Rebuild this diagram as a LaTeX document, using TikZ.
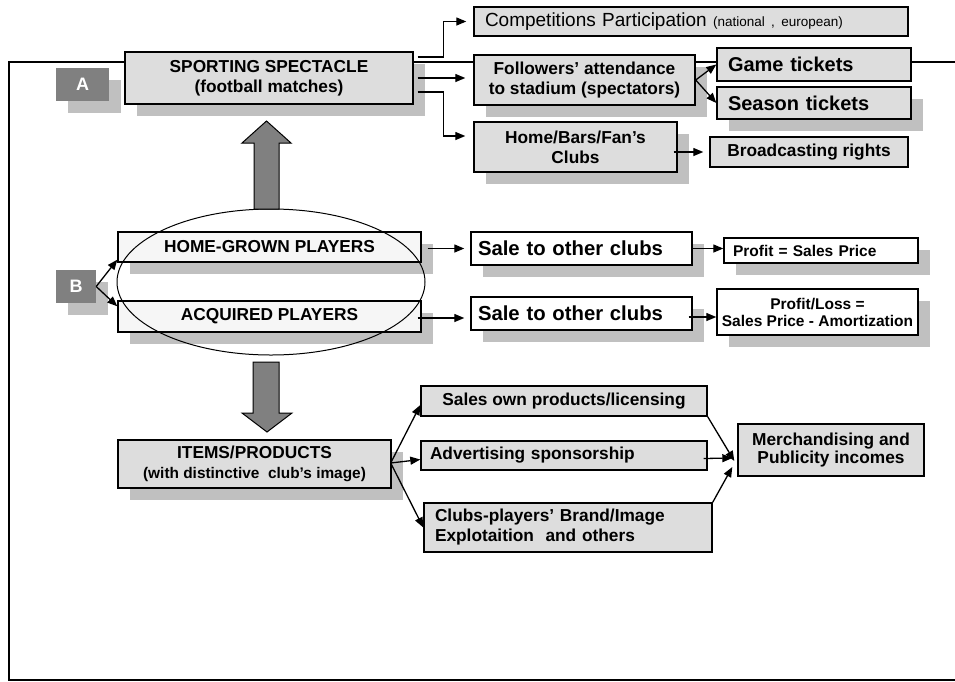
\documentclass[tikz,border=0pt]{standalone}
\usepackage{fontspec}
\setmainfont{Liberation Sans}
\usetikzlibrary{arrows.meta,shadows,calc}
\definecolor{boxgray}{HTML}{DDDDDD}
\definecolor{palegray}{HTML}{F6F6F6}
\definecolor{shadegray}{HTML}{C0C0C0}
\definecolor{darkgray}{HTML}{808080}
\tikzset{
  >={Triangle[length=10pt,width=8pt]},
  box/.style={draw, line width=1.4pt, fill=boxgray, inner sep=0pt, align=center,
    font=\bfseries\fontsize{17.3}{20}\selectfont},
  lbox/.style={box, align=left},
  pale/.style={fill=palegray},
  white/.style={fill=white},
  shade/.style={drop shadow={shadow xshift=12pt, shadow yshift=-12pt, fill=shadegray, opacity=1}},
  letter/.style={fill=darkgray, text=white, inner sep=0pt, font=\bfseries\fontsize{18}{20}\selectfont},
  conn/.style={->, line width=1.3pt},
  gap/.style={shorten >=6pt},
  frame/.style={line width=2pt},
  bigarrow/.style={draw, line width=1pt, fill=darkgray}
}

\begin{document}
\begin{tikzpicture}[x=1pt,y=-1pt]
  \useasboundingbox (0,0) rectangle (955,681);
  % Marco
  \draw[frame] (955,62) -- (9,62) -- (9,679.5) -- (955,679.5);
  % A: espectaculo deportivo
  \node[letter, shade, minimum width=53pt, minimum height=33pt] (labA) at (82.5,84.5) {A};
  \node[box, shade, minimum width=288pt, minimum height=52pt] (sport) at (269,78)
    {SPORTING SPECTACLE\\(football matches)};
  \node[lbox, text width=412pt, inner xsep=11pt, minimum height=29pt,
    font=\fontsize{19}{21}\selectfont] (compet) at (691,21.5)
    {Competitions Participation {\fontsize{13.5}{15}\selectfont(national , european)}};
  \node[box, shade, minimum width=221pt, minimum height=50pt] (follow) at (584.5,80)
    {Followers’ attendance\\to stadium (spectators)};
  \node[box, shade, minimum width=203pt, minimum height=50pt] (homebars) at (575.5,147)
    {Home/Bars/Fan’s\\Clubs};
  \node[lbox, text width=172pt, inner xsep=11pt, minimum height=33pt,
    font=\bfseries\fontsize{20}{22}\selectfont] (game) at (814,64.5) {Game tickets};
  \node[lbox, shade, text width=172pt, inner xsep=11pt, minimum height=32pt,
    font=\bfseries\fontsize{20}{22}\selectfont] (season) at (814,103) {Season tickets};
  \node[box, minimum width=198pt, minimum height=30pt] (broadcast) at (809,152)
    {Broadcasting rights};
  % B: jugadores
  \node[letter, shade, minimum width=40pt, minimum height=33pt] (labB) at (76,286.5) {B};
  \node[box, pale, shade, minimum width=303pt, minimum height=30pt] (homegrown) at (269.5,247)
    {HOME-GROWN PLAYERS};
  \node[box, pale, shade, minimum width=303pt, minimum height=31pt] (acquired) at (269.5,316.5)
    {ACQUIRED PLAYERS};
  \draw[line width=1pt] (271,282) ellipse [x radius=154pt, y radius=73pt];
  \node[lbox, white, shade, text width=207pt, inner xsep=7pt, minimum height=33pt,
    font=\bfseries\fontsize{20.3}{22}\selectfont] (sale1) at (581.5,248.5) {Sale to other clubs};
  \node[lbox, white, shade, text width=207pt, inner xsep=7pt, minimum height=33pt,
    font=\bfseries\fontsize{20.3}{22}\selectfont] (sale2) at (581.5,313.5) {Sale to other clubs};
  \node[lbox, white, shade, text width=176pt, inner xsep=9pt, minimum height=25pt,
    font=\bfseries\fontsize{15.5}{17}\selectfont] (prof1) at (821,250.5) {Profit = Sales Price};
  \node[box, white, shade, minimum width=201pt, minimum height=46pt,
    font=\bfseries\fontsize{15.5}{17}\selectfont] (prof2) at (817.5,312)
    {Profit/Loss =\\Sales Price - Amortization};
  % Productos
  \node[box, shade, minimum width=273pt, minimum height=48pt] (items) at (254.5,464)
    {ITEMS/PRODUCTS\\{\fontsize{15.4}{18}\selectfont(with distinctive~ club’s image)}};
  \node[box, minimum width=286pt, minimum height=30pt] (own) at (564,401)
    {Sales own products/licensing};
  \node[lbox, text width=268pt, inner xsep=9pt, minimum height=29pt] (adv) at (564,455.5)
    {Advertising sponsorship};
  \node[lbox, text width=266pt, inner xsep=11pt, minimum height=49pt] (brand) at (568,527.5)
    {Clubs-players’ Brand/Image\\Explotaition~ and others};
  \node[box, minimum width=186pt, minimum height=52pt,
    font=\bfseries\fontsize{17.3}{18}\selectfont] (merch) at (831,450)
    {Merchandising and\\Publicity incomes};
  % Flechas grandes
  \draw[bigarrow] (254,209) -- (254,143) -- (242,143) -- (266.5,121) -- (291,143)
    -- (279,143) -- (279,209) -- cycle;
  \draw[bigarrow] (253,362) -- (253,413) -- (242,413) -- (267,432) -- (292,413)
    -- (279,413) -- (279,362) -- cycle;
  % Conexiones
  \draw[conn, shorten >=7pt] ($(sport.east)+(4,-21)$) -- ++(26,0) |- (compet.west);
  \draw[conn, shorten >=8pt] ($(sport.east)+(4,0)$) -- (sport.east -| follow.west);
  \draw[conn, shorten >=8pt] ($(sport.east)+(4,14)$) -- ++(26,0) |- ($(homebars.west)+(0,-11)$);
  \draw[conn] (follow.east) -- (game.west);
  \draw[conn] (follow.east) -- (season.west);
  \draw[conn, gap] ($(homebars.east |- broadcast.west)+(-4,0)$) -- (broadcast.west);
  \draw[conn] (labB.east) -- ($(homegrown.south west)+(0,-3)$);
  \draw[conn] (labB.east) -- ($(acquired.north west)+(0,6)$);
  \draw[conn, gap] ($(sale1.west -| homegrown.east)+(6,0)$) -- (sale1.west);
  \draw[conn, gap] ($(acquired.east)+(-4,1.5)$) -- ($(acquired.east -| sale2.west)+(0,1.5)$);
  \draw[conn] (sale1.east) -- (sale1.east -| prof1.west);
  \draw[conn] ($(sale2.east)+(-4,3.5)$) -- ($(sale2.east -| prof2.west)+(0,3.5)$);
  \draw[conn] ($(items.east)+(-1,-1)$) -- ($(own.west)+(0,4)$);
  \draw[conn] ($(items.east)+(-1,-1)$) -- ($(adv.west)+(0,4)$);
  \draw[conn] ($(items.east)+(-1,-1)$) -- (brand.west);
  \draw[conn] (own.south east) -- ($(merch.west)+(-3,11)$);
  \draw[conn] ($(adv.east)+(-4,3)$) -- ($(merch.west)+(-5,8)$);
  \draw[conn] (brand.north east) -- ($(merch.west)+(-5,17)$);
\end{tikzpicture}
\end{document}
